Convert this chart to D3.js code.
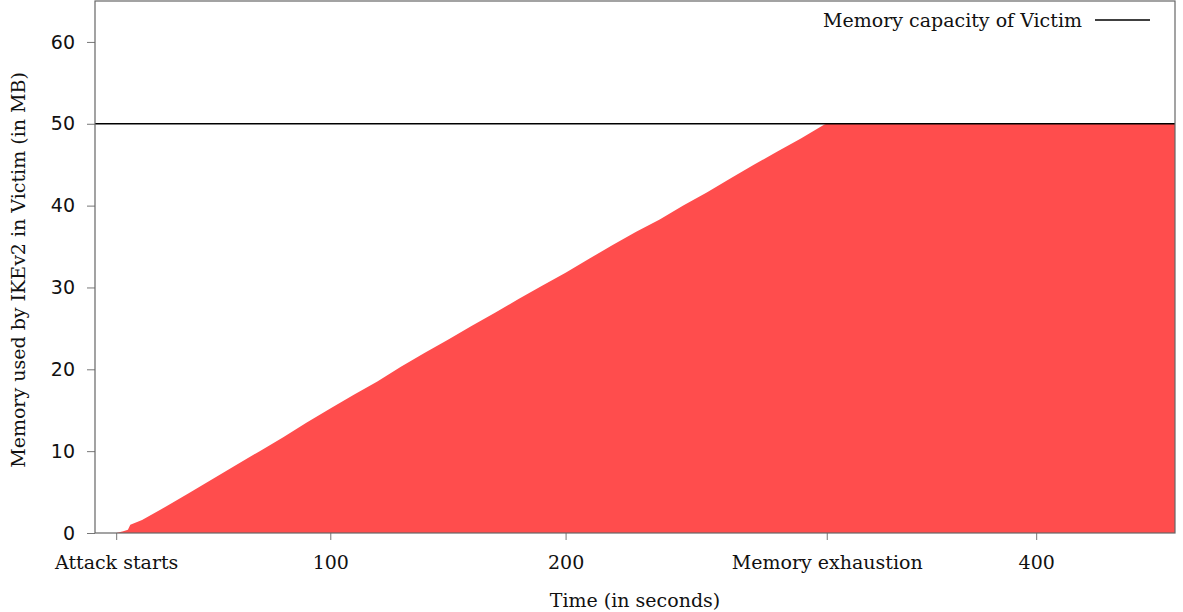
<!DOCTYPE html>
<html>
<head>
<meta charset="utf-8">
<script src="https://cdn.jsdelivr.net/npm/d3@7"></script>
<style>
  body { margin: 0; background: #fff; }
  svg { display: block; }
</style>
</head>
<body>
<div id="chart"></div>
<script>
// memory used over time
var times  = [9, 12, 14, 15, 20, 30, 40, 50, 60, 70, 80, 90, 100, 110, 120, 130, 140, 150, 160, 170,
              180, 190, 200, 210, 220, 230, 240, 250, 260, 270, 280, 290, 300, 310, 311, 459];
var memory = [0, 0.2, 0.4, 1.0, 1.6, 3.2, 4.9, 6.6, 8.3, 10.0, 11.7, 13.5, 15.2, 16.9, 18.5, 20.3, 22.0, 23.6, 25.3, 26.9,
              28.6, 30.2, 31.8, 33.5, 35.2, 36.8, 38.3, 40.0, 41.6, 43.3, 45.0, 46.6, 48.2, 49.9, 50, 50];

var capacity = 50;
var xTickValues = [9, 100, 200, 311, 400];
var xTickLabels = ["Attack starts", "100", "200", "Memory exhaustion", "400"];
var yTickValues = [0, 10, 20, 30, 40, 50, 60];

var svgWidth = 1183;
var svgHeight = 612;
var margin = { top: 1, right: 8, bottom: 79, left: 95 };
var width = svgWidth - margin.left - margin.right;
var height = svgHeight - margin.top - margin.bottom;

var svg = d3.select("#chart")
            .append("svg")
            .attr("width", svgWidth)
            .attr("height", svgHeight);

var chartGroup = svg.append("g")
                    .attr("transform", `translate(${margin.left}, ${margin.top})`);

var xScale = d3.scaleLinear().domain([0, 459]).range([0, width]);
var yScale = d3.scaleLinear().domain([0, 65]).range([height, 0]);

var data = times.map((t, i) => ({ t: t, m: memory[i] }));

// filled area
var area = d3.area()
    .x(d => xScale(d.t))
    .y0(yScale(0))
    .y1(d => yScale(d.m));

chartGroup.append("path")
    .datum(data)
    .attr("d", area)
    .attr("fill", "#ff4d4d");

// capacity line
chartGroup.append("line")
    .attr("x1", 0)
    .attr("x2", width)
    .attr("y1", yScale(capacity))
    .attr("y2", yScale(capacity))
    .attr("stroke", "#000")
    .attr("stroke-width", 1.3);

// axes
var bottomAxis = d3.axisBottom(xScale)
    .tickValues(xTickValues)
    .tickFormat((d, i) => xTickLabels[i])
    .tickSizeOuter(0)
    .tickSizeInner(7)
    .tickPadding(16);

var leftAxis = d3.axisLeft(yScale)
    .tickValues(yTickValues)
    .tickSizeOuter(0)
    .tickSizeInner(8)
    .tickPadding(12);

var xAxisG = chartGroup.append("g")
    .attr("transform", `translate(0, ${height})`)
    .call(bottomAxis);
xAxisG.select(".domain").remove();
xAxisG.selectAll("line").attr("stroke", "#777");
xAxisG.selectAll("text")
    .attr("font-family", "DejaVu Serif")
    .attr("font-size", "19px")
    .attr("fill", "#111");

var yAxisG = chartGroup.append("g").call(leftAxis);
yAxisG.select(".domain").remove();
yAxisG.selectAll("line").attr("stroke", "#777");
yAxisG.selectAll("text")
    .attr("font-family", "DejaVu Sans")
    .attr("font-size", "19px")
    .attr("fill", "#111");

// frame
chartGroup.append("rect")
    .attr("x", 0)
    .attr("y", 0)
    .attr("width", width)
    .attr("height", height)
    .attr("fill", "none")
    .attr("stroke", "#666")
    .attr("stroke-width", 1.2);

// legend
chartGroup.append("text")
    .attr("x", 987)
    .attr("y", 26)
    .attr("text-anchor", "end")
    .attr("font-family", "DejaVu Serif")
    .attr("font-size", "19px")
    .attr("fill", "#111")
    .text("Memory capacity of Victim");

chartGroup.append("line")
    .attr("x1", 1000)
    .attr("x2", 1055)
    .attr("y1", 19)
    .attr("y2", 19)
    .attr("stroke", "#000")
    .attr("stroke-width", 1.3);

// axis titles
chartGroup.append("text")
    .attr("x", width / 2)
    .attr("y", height + 74)
    .attr("text-anchor", "middle")
    .attr("font-family", "DejaVu Serif")
    .attr("font-size", "19px")
    .attr("fill", "#111")
    .text("Time (in seconds)");

chartGroup.append("text")
    .attr("transform", "rotate(-90)")
    .attr("x", 0 - (height / 2) - 3)
    .attr("y", 25 - margin.left)
    .attr("text-anchor", "middle")
    .attr("font-family", "DejaVu Serif")
    .attr("font-size", "19px")
    .attr("fill", "#111")
    .text("Memory used by IKEv2 in Victim (in MB)");
</script>
</body>
</html>
